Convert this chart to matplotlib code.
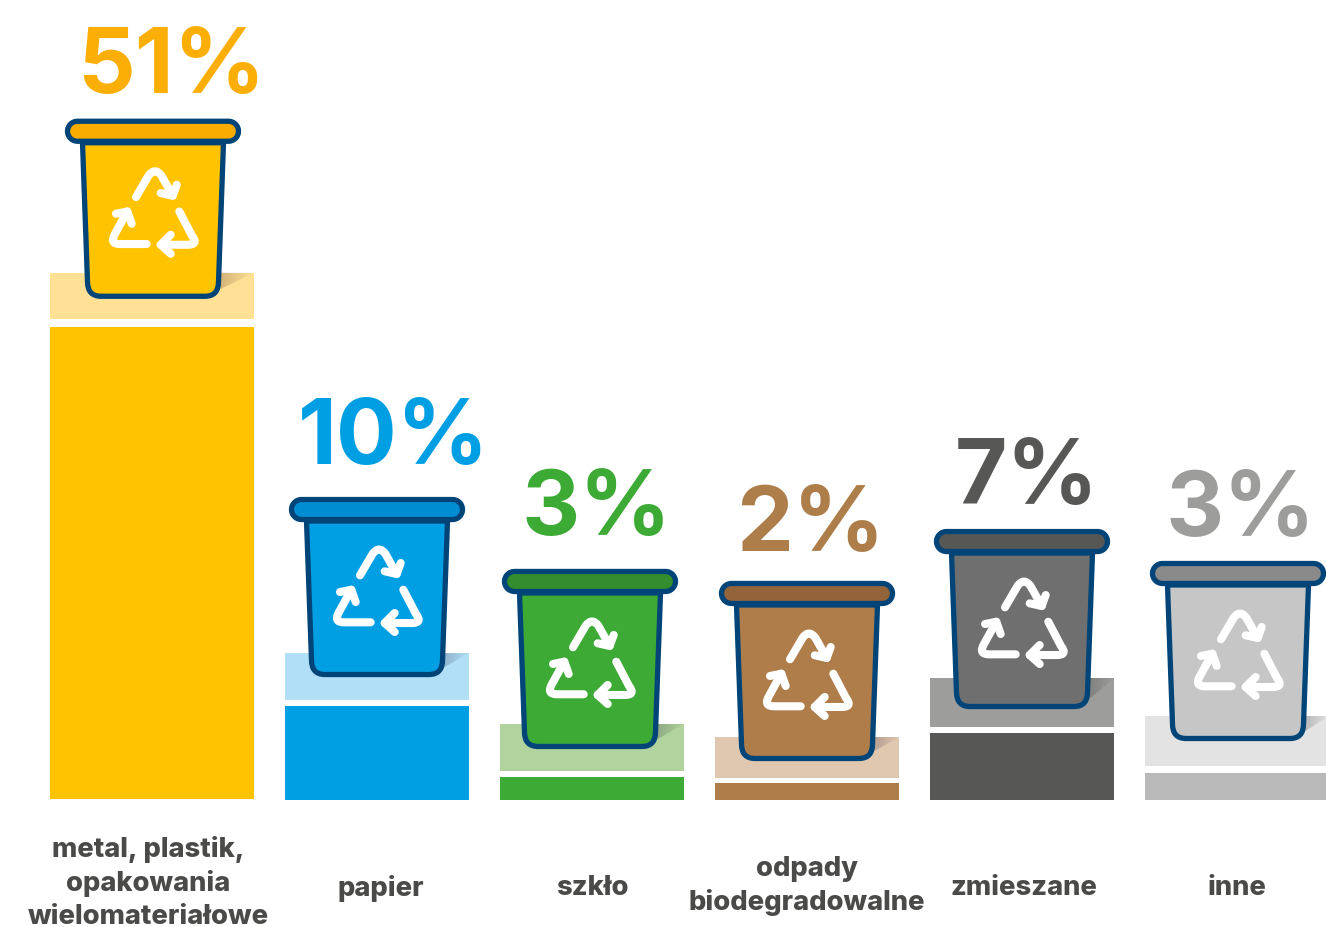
import matplotlib
matplotlib.use('Agg')
import matplotlib.pyplot as plt
import numpy as np
from matplotlib.patches import PathPatch, Polygon
from matplotlib.path import Path
from matplotlib.transforms import Affine2D

plt.rcParams['font.family'] = ['Inter', 'DejaVu Sans']

# data
categories = ['metal, plastik,\nopakowania\nwielomateriałowe', 'papier', 'szkło',
              'odpady\nbiodegradowalne', 'zmieszane', 'inne']
shares = [51, 10, 3, 2, 7, 3]
bar_values = [51, 10.16, 2.49, 1.84, 7.24, 2.92]

# colours
bar_colors = ['#FFC300', '#009FE3', '#3CAA35', '#AF7D4A', '#575756', '#B9B9B9']
pale_colors = ['#FFE095', '#B2DFF8', '#B1D49F', '#E0C8B0', '#9D9D9C', '#E3E3E3']
body_colors = ['#FFC300', '#009FE3', '#3CAA35', '#AF7D4A', '#706F6F', '#C6C6C6']
lid_colors = ['#FAAB00', '#008DD2', '#338F2D', '#936339', '#575756', '#8A8A8A']
text_colors = ['#FBAE05', '#009FE3', '#3CAA35', '#AE7E4A', '#575756', '#9D9D9C']
navy = '#004478'
label_color = '#4A4A49'

# layout, in pixels
px_per_unit = 9.25
base_px = 800
bar_x = [152, 377, 592, 807, 1022, 1237]
bar_w = [204, 184, 184, 184, 184, 184]
bar_bottom = [1.5, 0, 0, 0, 0, 0]
gap = [8, 6, 6, 5, 6, 7]
pale_h = [46, 47, 47, 41, 49, 50]
bin_x = [153, 377, 590, 807, 1022, 1238]
bin_lift = [29, 30, 29, 23, 25, 33]
pct_x = [171, 393.5, 597, 810, 1027, 1241]
pct_y = [93, 464, 535, 551, 504, 536]
label_x = [148, 381, 592, 807, 1024, 1237]
label_y = [883, 888, 888, 886, 888, 888]

fig = plt.figure(figsize=(13.26, 9.27), dpi=100)
ax = fig.add_axes([0, 0, 1, 1])
ax.set_xlim(0, 1326)
ax.set_ylim((base_px - 927) / px_per_unit, base_px / px_per_unit)
ax.axis('off')

tops = [v + b / px_per_unit for v, b in zip(bar_values, bar_bottom)]
ax.bar(bar_x, bar_values, width=bar_w, bottom=[b / px_per_unit for b in bar_bottom],
       color=bar_colors, zorder=1)
ax.bar(bar_x, [h / px_per_unit for h in pale_h], width=bar_w,
       bottom=[t + g / px_per_unit for t, g in zip(tops, gap)], color=pale_colors, zorder=1)

M, L, C, Z = Path.MOVETO, Path.LINETO, Path.CURVE3, Path.CLOSEPOLY
body_path = Path([(-70.5, 155), (-65.5, 16), (-65.5, 1.5), (-52, 1.5), (52, 1.5), (65.5, 1.5),
                  (65.5, 16), (70.5, 155), (-70.5, 155)],
                 [M, L, C, C, L, C, C, L, Z])

# pill shaped lid
t = np.linspace(np.pi / 2, 3 * np.pi / 2, 24)
lid_r = 10
lid_y = 166.5
lid_pts = np.vstack([
    np.column_stack([-75.5 + lid_r * np.cos(t), lid_y + lid_r * np.sin(t)]),
    np.column_stack([75.5 - lid_r * np.cos(t), lid_y - lid_r * np.sin(t)]),
])

arrows = [
    Path([(-17, 100.7), (-4.5, 122), (2, 131), (8.5, 122), (19.7, 102)], [M, L, C, C, L]),
    Path([(23.7, 113), (19.7, 102), (7.7, 104.7)], [M, L, L]),
    Path([(-6.3, 53.7), (-33, 53.7), (-44, 53.7), (-38, 64), (-25.7, 86.3)], [M, L, C, C, L]),
    Path([(-37, 84), (-25.7, 86.3), (-21.3, 74)], [M, L, L]),
    Path([(26.3, 86.3), (39, 62), (46, 53), (35, 53), (7.7, 53)], [M, L, C, C, L]),
    Path([(17.7, 63), (7.7, 53), (17.7, 44)], [M, L, L]),
]

for i in range(len(categories)):
    cx, cy = ax.transData.transform((bin_x[i], tops[i]))
    tr = Affine2D().translate(cx, cy + bin_lift[i])

    # soft shadow on the pedestal, right of the bin
    ped_top = gap[i] + pale_h[i] - bin_lift[i]
    right = bar_x[i] + bar_w[i] / 2 - bin_x[i]
    for k in range(14):
        f = 1 - k / 14
        pts = [(66, 8), (66 + (right - 66) * f, 8 + (ped_top - 8) * f),
               (68 + (right - 68) * f, ped_top), (68, ped_top)]
        ax.add_patch(Polygon(pts, closed=True, transform=tr, facecolor='black',
                             edgecolor='none', alpha=0.01, zorder=2))

    ax.add_patch(PathPatch(body_path, transform=tr, facecolor=body_colors[i], edgecolor=navy,
                           linewidth=3.8, joinstyle='round', zorder=3))
    ax.add_patch(Polygon(lid_pts, closed=True, transform=tr, facecolor=lid_colors[i],
                         edgecolor=navy, linewidth=3.8, zorder=4))
    for arrow in arrows:
        ax.add_patch(PathPatch(arrow, transform=tr, facecolor='none', edgecolor='white',
                               linewidth=5.8, capstyle='round', joinstyle='round', zorder=5))

    fig.text(pct_x[i] / 1326, 1 - pct_y[i] / 927, f'{shares[i]}%', color=text_colors[i],
             fontsize=65, fontweight='bold', ha='center', va='baseline')
    fig.text(label_x[i] / 1326, 1 - label_y[i] / 927, categories[i], color=label_color,
             fontsize=19.7, fontweight='heavy', ha='center', va='center', linespacing=1.36)

fig.savefig('out.png', dpi=100)
